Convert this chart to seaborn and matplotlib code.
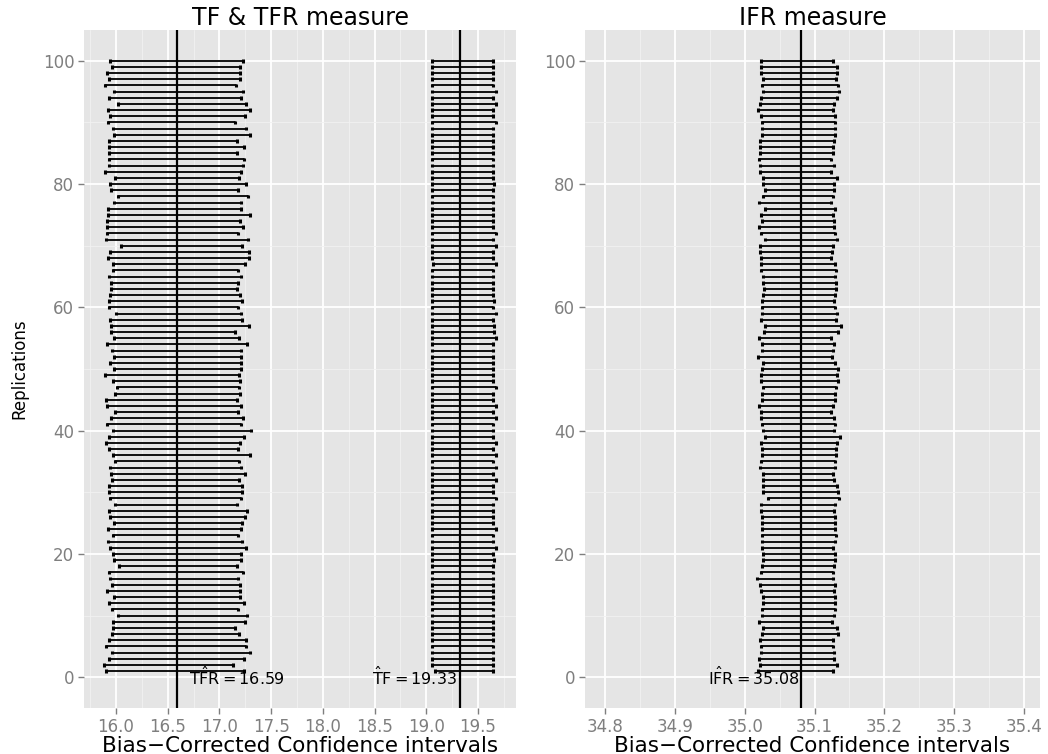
import matplotlib
matplotlib.use("Agg")
import matplotlib.pyplot as plt
import seaborn as sns
import pandas as pd
import numpy as np
from matplotlib.ticker import MultipleLocator, FormatStrFormatter

# ---------------- data (listed from top bar, replication 100, down to 1) ----------------
replications = list(range(100, 0, -1))

tfr_lower = [15.942, 15.958, 15.916, 15.929, 15.894, 15.981, 15.929, 16.016, 15.926, 15.942,
             15.923, 15.971, 15.984, 15.936, 15.936, 15.932, 15.929, 15.929, 15.897, 15.987,
             15.942, 15.952, 16.016, 15.977, 15.923, 15.919, 15.916, 15.913, 15.913, 15.906,
             16.052, 15.942, 15.923, 15.968, 15.971, 15.929, 15.952, 15.952, 15.945, 15.936,
             15.932, 15.997, 15.945, 15.952, 15.955, 15.977, 15.916, 15.958, 15.981, 15.942,
             15.977, 15.894, 15.968, 16.013, 15.994, 15.906, 15.913, 15.987, 15.948, 15.916,
             15.968, 15.929, 15.906, 15.936, 15.974, 15.990, 15.945, 15.952, 15.958, 15.929,
             15.929, 15.945, 15.994, 15.932, 15.942, 15.984, 15.926, 15.974, 15.926, 15.945,
             15.974, 15.977, 16.026, 15.936, 15.939, 15.961, 15.910, 15.981, 15.936, 15.958,
             16.023, 15.974, 15.971, 15.958, 15.932, 15.903, 15.958, 15.932, 15.887, 15.906]

tfr_upper = [17.228, 17.202, 17.202, 17.199, 17.161, 17.225, 17.212, 17.254, 17.296, 17.244,
             17.154, 17.260, 17.296, 17.173, 17.241, 17.173, 17.241, 17.228, 17.206, 17.190,
             17.254, 17.183, 17.273, 17.212, 17.212, 17.293, 17.202, 17.228, 17.180, 17.273,
             17.219, 17.286, 17.286, 17.251, 17.183, 17.209, 17.183, 17.170, 17.202, 17.222,
             17.180, 17.209, 17.215, 17.286, 17.154, 17.186, 17.267, 17.209, 17.206, 17.206,
             17.209, 17.190, 17.202, 17.193, 17.199, 17.170, 17.206, 17.177, 17.231, 17.212,
             17.306, 17.241, 17.199, 17.177, 17.299, 17.193, 17.206, 17.248, 17.190, 17.215,
             17.222, 17.206, 17.170, 17.270, 17.251, 17.222, 17.209, 17.183, 17.222, 17.257,
             17.206, 17.209, 17.173, 17.225, 17.183, 17.196, 17.202, 17.202, 17.241, 17.183,
             17.264, 17.244, 17.148, 17.190, 17.254, 17.260, 17.296, 17.241, 17.135, 17.238]

tf_lower = [19.056, 19.056, 19.056, 19.056, 19.056, 19.056, 19.056, 19.056, 19.056, 19.056,
            19.056, 19.056, 19.056, 19.056, 19.056, 19.056, 19.056, 19.056, 19.056, 19.056,
            19.056, 19.056, 19.056, 19.056, 19.056, 19.056, 19.056, 19.056, 19.056, 19.056,
            19.056, 19.056, 19.056, 19.066, 19.056, 19.056, 19.056, 19.056, 19.056, 19.056,
            19.056, 19.056, 19.056, 19.056, 19.056, 19.056, 19.056, 19.060, 19.056, 19.056,
            19.056, 19.056, 19.056, 19.056, 19.056, 19.056, 19.056, 19.056, 19.056, 19.056,
            19.056, 19.056, 19.056, 19.056, 19.056, 19.056, 19.056, 19.056, 19.056, 19.056,
            19.060, 19.056, 19.056, 19.056, 19.056, 19.056, 19.056, 19.056, 19.056, 19.056,
            19.056, 19.056, 19.056, 19.056, 19.056, 19.056, 19.056, 19.056, 19.056, 19.056,
            19.056, 19.056, 19.056, 19.056, 19.056, 19.056, 19.056, 19.056, 19.060, 19.085]

tf_upper = [19.646, 19.646, 19.646, 19.646, 19.646, 19.675, 19.646, 19.675, 19.646, 19.646,
            19.675, 19.646, 19.646, 19.646, 19.646, 19.646, 19.646, 19.646, 19.646, 19.646,
            19.659, 19.646, 19.646, 19.646, 19.646, 19.646, 19.646, 19.646, 19.675, 19.646,
            19.675, 19.646, 19.646, 19.675, 19.646, 19.646, 19.646, 19.646, 19.646, 19.659,
            19.646, 19.675, 19.646, 19.659, 19.659, 19.675, 19.646, 19.646, 19.646, 19.646,
            19.646, 19.646, 19.646, 19.675, 19.646, 19.646, 19.675, 19.646, 19.675, 19.646,
            19.646, 19.646, 19.675, 19.646, 19.675, 19.646, 19.675, 19.646, 19.675, 19.646,
            19.646, 19.675, 19.646, 19.646, 19.646, 19.646, 19.675, 19.646, 19.646, 19.675,
            19.646, 19.659, 19.646, 19.646, 19.646, 19.646, 19.646, 19.646, 19.646, 19.646,
            19.646, 19.646, 19.646, 19.646, 19.646, 19.646, 19.646, 19.646, 19.646, 19.646]

ifr_lower = [35.0233, 35.0229, 35.0229, 35.0267, 35.0252, 35.0267, 35.0238, 35.0219, 35.0186, 35.0238,
             35.0243, 35.0243, 35.0248, 35.0224, 35.0219, 35.0214, 35.0200, 35.0219, 35.0219, 35.0267,
             35.0257, 35.0295, 35.0267, 35.0210, 35.0295, 35.0238, 35.0248, 35.0210, 35.0238, 35.0290,
             35.0219, 35.0219, 35.0229, 35.0229, 35.0229, 35.0257, 35.0267, 35.0276, 35.0267, 35.0248,
             35.0248, 35.0252, 35.0229, 35.0286, 35.0281, 35.0200, 35.0243, 35.0248, 35.0195, 35.0267,
             35.0243, 35.0238, 35.0238, 35.0267, 35.0248, 35.0248, 35.0200, 35.0229, 35.0238, 35.0243,
             35.0257, 35.0295, 35.0238, 35.0248, 35.0243, 35.0229, 35.0219, 35.0257, 35.0257, 35.0267,
             35.0267, 35.0333, 35.0238, 35.0229, 35.0248, 35.0248, 35.0243, 35.0243, 35.0248, 35.0248,
             35.0267, 35.0267, 35.0248, 35.0229, 35.0176, 35.0219, 35.0229, 35.0257, 35.0267, 35.0252,
             35.0248, 35.0210, 35.0257, 35.0248, 35.0219, 35.0238, 35.0229, 35.0200, 35.0219, 35.0195]

ifr_upper = [35.1257, 35.1324, 35.1314, 35.1305, 35.1329, 35.1343, 35.1314, 35.1276, 35.1257, 35.1295,
             35.1290, 35.1295, 35.1286, 35.1271, 35.1257, 35.1267, 35.1229, 35.1276, 35.1229, 35.1314,
             35.1281, 35.1281, 35.1267, 35.1229, 35.1286, 35.1267, 35.1276, 35.1281, 35.1295, 35.1314,
             35.1262, 35.1248, 35.1233, 35.1286, 35.1305, 35.1290, 35.1305, 35.1310, 35.1290, 35.1276,
             35.1290, 35.1314, 35.1305, 35.1376, 35.1338, 35.1229, 35.1276, 35.1257, 35.1243, 35.1295,
             35.1338, 35.1324, 35.1338, 35.1305, 35.1290, 35.1290, 35.1257, 35.1238, 35.1276, 35.1290,
             35.1276, 35.1357, 35.1314, 35.1305, 35.1305, 35.1295, 35.1290, 35.1267, 35.1281, 35.1314,
             35.1333, 35.1343, 35.1286, 35.1276, 35.1290, 35.1295, 35.1295, 35.1305, 35.1290, 35.1257,
             35.1286, 35.1290, 35.1276, 35.1257, 35.1267, 35.1286, 35.1276, 35.1290, 35.1295, 35.1290,
             35.1276, 35.1252, 35.1314, 35.1338, 35.1267, 35.1267, 35.1271, 35.1276, 35.1314, 35.1270]

tfr_hat, tf_hat, ifr_hat = 16.59, 19.33, 35.08
left_ticks = [16.0, 16.5, 17.0, 17.5, 18.0, 18.5, 19.0, 19.5]
right_ticks = [34.8, 34.9, 35.0, 35.1, 35.2, 35.3, 35.4]
y_ticks = [0, 20, 40, 60, 80, 100]

# ---------------- style ----------------
sns.set_theme(style="darkgrid", rc={
    "axes.facecolor": "#E5E5E5",
    "axes.edgecolor": "#E5E5E5",
    "grid.color": "white",
    "xtick.color": "#7F7F7F",
    "ytick.color": "#7F7F7F",
    "xtick.major.size": 4,
    "ytick.major.size": 4,
    "xtick.major.width": 1.0,
    "ytick.major.width": 1.0,
    "xtick.bottom": True,
    "ytick.left": True,
})
plt.rcParams["font.family"] = ["DejaVu Sans"]

fig = plt.figure(figsize=(10.48, 7.54), dpi=100)
ax1 = fig.add_axes([84 / 1048, 46 / 754, 432 / 1048, 678 / 754])
ax2 = fig.add_axes([585 / 1048, 46 / 754, 455 / 1048, 678 / 754])


def draw_intervals(ax, lower, upper):
    df = pd.DataFrame({"rep": replications, "lower": lower, "upper": upper})
    long = df.melt(id_vars="rep", value_vars=["lower", "upper"], value_name="value")
    sns.lineplot(data=long, x="value", y="rep", units="rep", estimator=None,
                 sort=False, orient="y", color="black", linewidth=1.3, ax=ax)
    ax.vlines(df["lower"], df["rep"] - 0.3, df["rep"] + 0.3, color="black", linewidth=2.2)
    ax.vlines(df["upper"], df["rep"] - 0.3, df["rep"] + 0.3, color="black", linewidth=2.2)


draw_intervals(ax1, tfr_lower, tfr_upper)
draw_intervals(ax1, tf_lower, tf_upper)
draw_intervals(ax2, ifr_lower, ifr_upper)

ax1.axvline(tfr_hat, color="black", linewidth=1.6)
ax1.axvline(tf_hat, color="black", linewidth=1.6)
ax2.axvline(ifr_hat, color="black", linewidth=1.6)

ax1.text(17.17, 0, r"$\mathrm{T}\hat{\mathrm{F}}\mathrm{R} = %.2f$" % tfr_hat,
         ha="center", va="center", fontsize=11.5, color="black")
ax1.text(18.89, 0, r"$\hat{\mathrm{T}}\mathrm{F} = %.2f$" % tf_hat,
         ha="center", va="center", fontsize=11.5, color="black")
ax2.text(35.013, 0, r"$\mathrm{I}\hat{\mathrm{F}}\mathrm{R} = %.2f$" % ifr_hat,
         ha="center", va="center", fontsize=11.5, color="black")

for ax, ticks, lim, minor, title in [
    (ax1, left_ticks, (15.691, 19.868), 0.25, "TF & TFR measure"),
    (ax2, right_ticks, (34.771, 35.423), 0.05, "IFR measure"),
]:
    ax.set_xlim(*lim)
    ax.set_ylim(-5, 105)
    ax.set_xticks(ticks)
    ax.xaxis.set_major_formatter(FormatStrFormatter("%.1f"))
    ax.set_yticks(y_ticks)
    ax.xaxis.set_minor_locator(MultipleLocator(minor))
    ax.yaxis.set_minor_locator(MultipleLocator(10))
    ax.grid(which="major", color="white", linewidth=1.3)
    ax.grid(which="minor", color="#F2F2F2", linewidth=0.6)
    ax.tick_params(which="minor", length=0)
    ax.tick_params(axis="both", which="major", labelsize=12, labelcolor="#7F7F7F", pad=3)
    ax.set_axisbelow(True)
    ax.set_title(title, fontsize=17, color="black", pad=3)
    ax.set_xlabel("Bias\u2212Corrected Confidence intervals", fontsize=15.5, color="black", labelpad=0)
    ax.set_ylabel("")
    for s in ax.spines.values():
        s.set_visible(False)

ax1.set_ylabel("Replications", fontsize=12, color="black", labelpad=10)

fig.savefig("out.png", dpi=100, facecolor="white")
